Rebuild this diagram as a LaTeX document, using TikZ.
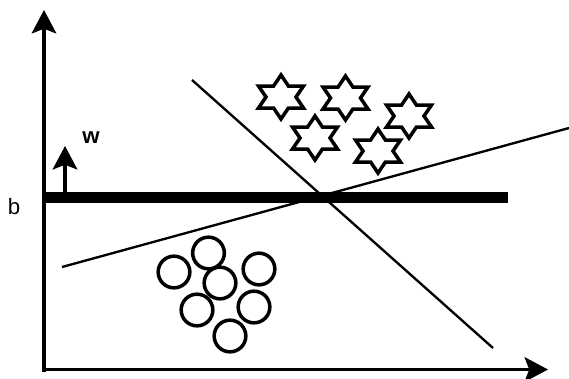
\documentclass[tikz,border=0pt]{standalone}
\usepackage{fontspec}
\setmainfont{Liberation Sans}
\usetikzlibrary{arrows.meta}
\tikzset{
  axis/.style={line width=3pt,-{Stealth[length=20pt,width=21pt,inset=4pt]}},
  sep/.style={line width=2pt},
  dot/.style={circle,draw,line width=3pt,inner sep=0pt,minimum size=0.95cm},
  hexstar/.pic={\draw[line width=3pt,line join=miter]
    (0,-22) -- (7.4,-11) -- (22.5,-11) -- (15,0) -- (22.5,11) -- (7.4,11)
    -- (0,22) -- (-7.4,11) -- (-22.5,11) -- (-15,0) -- (-22.5,-11) -- (-7.4,-11) -- cycle;}
}

\begin{document}
\begin{tikzpicture}[x=0.03cm,y=-0.03cm]
\useasboundingbox (0,0) rectangle (569,378);
% axes
\coordinate (ybot) at (44,372);
\coordinate (ytop) at (44,10);
\coordinate (xbeg) at (42,369.5);
\coordinate (xend) at (548,369.5);
\draw[axis] (ybot) -- (ytop);
\draw[axis] (xbeg) -- (xend);
% hyperplane and normal
\coordinate (hl) at (44,197.5);
\coordinate (hr) at (508,197.5);
\draw[line width=9pt] (hl) -- (hr);
\coordinate (wbeg) at (65,197.5);
\coordinate (wtip) at (65,146);
\draw[axis] (wbeg) -- (wtip);
\node[font=\fontsize{19}{22}\selectfont] (b) at (14,207) {b};
\node[font=\fontsize{19}{22}\selectfont\bfseries] (w) at (91,138) {w};
% other separating lines
\coordinate (l1a) at (192,80);
\coordinate (l1b) at (493,348);
\coordinate (l2a) at (62,267);
\coordinate (l2b) at (569,128);
\draw[sep] (l1a) -- (l1b);
\draw[sep] (l2a) -- (l2b);
% class 1
\pic (s1) at (281,97) {hexstar};
\pic (s2) at (345.5,98) {hexstar};
\pic (s3) at (409,116) {hexstar};
\pic (s4) at (315,138) {hexstar};
\pic (s5) at (378,151) {hexstar};
% class 2
\node[dot] (c1) at (174,272) {};
\node[dot] (c2) at (208.5,253) {};
\node[dot] (c3) at (220,283) {};
\node[dot] (c4) at (259,269) {};
\node[dot] (c5) at (197,310) {};
\node[dot] (c6) at (254,307) {};
\node[dot] (c7) at (230,336) {};
\end{tikzpicture}
\end{document}
